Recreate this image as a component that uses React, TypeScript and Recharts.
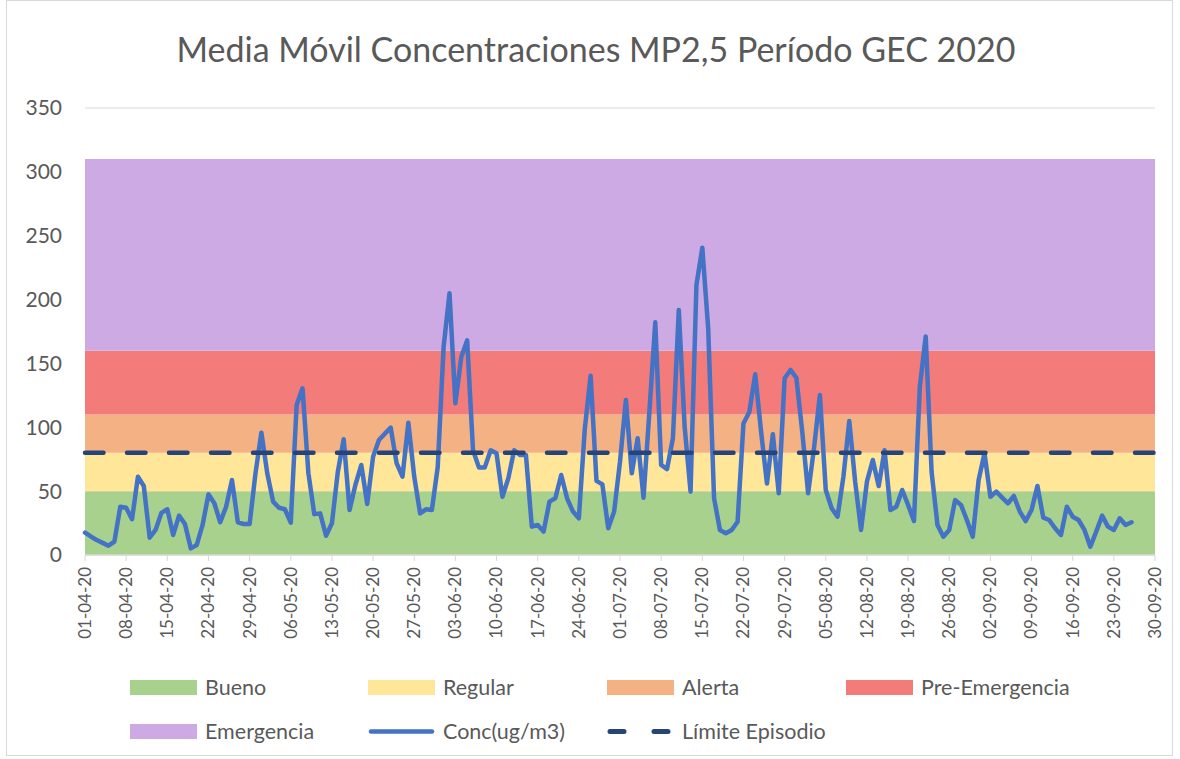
import { ComposedChart, Area, Line, XAxis, YAxis, CartesianGrid, ReferenceLine } from 'recharts'

// daily moving average, 01-04-20 .. 26-09-20
const CONC = [
  17.5, 14.5, 11.7, 9.5, 7.3, 10.4, 37.8, 37, 28, 61.3,
  54, 13.6, 19.6, 33, 35.8, 15.7, 30.8, 24.3, 5.2, 7.8,
  23.5, 47.5, 40.5, 25.6, 37.8, 58.7, 25.6, 24.3, 24.3, 64,
  95.8, 64, 41.8, 37, 35.8, 25.3, 117.5, 130.5, 64, 32,
  32.6, 15.1, 24.8, 65, 90.6, 35.2, 55, 70.5, 40, 77,
  90, 95, 99.7, 72, 61.3, 103.6, 61.3, 32.6, 35.8, 35.2,
  69, 163, 205, 118.8, 155, 168, 82, 68.6, 68.6, 82,
  79.6, 45.6, 60, 82, 78.3, 78.3, 22.2, 23.5, 18.3, 41.8,
  44.4, 62.6, 44.4, 34, 28.7, 98, 140.4, 58, 55.3, 20.9,
  34, 73, 121.4, 64, 91.4, 44.9, 112, 182.2, 70.5, 67.3,
  91.4, 191.9, 100, 49.6, 211.4, 240.6, 177.5, 44.4, 19.6, 17,
  19.6, 26, 103, 112, 141.5, 96.5, 56, 94.5, 48.3, 138.4,
  144.9, 138.8, 96.5, 48.3, 83.6, 125.3, 50.9, 36.6, 30, 61.3,
  105, 57.4, 19.6, 57.4, 74.4, 54, 82, 35.2, 37.8, 50.9,
  39.2, 26.6, 131.8, 171, 65.2, 23.5, 14.3, 19.6, 43, 39.2,
  27.4, 14.3, 58.7, 79.6, 45.6, 49.6, 44.9, 40.5, 46.2, 34,
  26.6, 35.2, 54, 29.2, 27.4, 20.9, 15.7, 37.8, 30, 27.4,
  19.6, 6.5, 18.3, 30.8, 22.2, 19.6, 28.7, 23.5, 25.6,
]

const TICK_LABELS = [
  '01-04-20', '08-04-20', '15-04-20', '22-04-20', '29-04-20', '06-05-20', '13-05-20',
  '20-05-20', '27-05-20', '03-06-20', '10-06-20', '17-06-20', '24-06-20', '01-07-20',
  '08-07-20', '15-07-20', '22-07-20', '29-07-20', '05-08-20', '12-08-20', '19-08-20',
  '26-08-20', '02-09-20', '09-09-20', '16-09-20', '23-09-20', '30-09-20',
]

const BAND_NAMES = ['Bueno', 'Regular', 'Alerta', 'Pre-Emergencia', 'Emergencia']
const BAND_TOPS = [50, 80, 110, 160, 310]
const BAND_COLORS = ['#A9D18E', '#FFE699', '#F4B183', '#F37B79', '#CDAAE3']

const LIMIT = 80
const Y_TICKS = [0, 50, 100, 150, 200, 250, 300, 350]

const TOTAL_DAYS = (TICK_LABELS.length - 1) * 7
const TICKS = TICK_LABELS.map((_, i) => i * 7)

const data = Array.from({ length: TOTAL_DAYS + 1 }, (_, day) => {
  const row: Record<string, number | null> = { day, conc: CONC[day] ?? null }
  BAND_TOPS.forEach((top, i) => {
    row['b' + i] = top - (i ? BAND_TOPS[i - 1] : 0)
  })
  return row
})

const TEXT = '#595959'
const GRID = '#d9d9d9'

function DateTick({ x, y, payload }: any) {
  const label = TICK_LABELS[Math.round(payload.value / 7)]
  const ty = y + 4
  return (
    <text
      x={x}
      y={ty}
      transform={`rotate(-90 ${x} ${ty})`}
      textAnchor="end"
      dy="0.35em"
      fill={TEXT}
      fontSize={17}
    >
      {label}
    </text>
  )
}

function LegendItem({ left, top, label, kind, color }: any) {
  let mark
  if (kind === 'box') {
    mark = <div style={{ width: 67, height: 15, background: color }} />
  } else {
    mark = (
      <svg width={67} height={15}>
        <line
          x1={3}
          x2={64}
          y1={7.5}
          y2={7.5}
          stroke={color}
          strokeWidth={kind === 'dash' ? 5 : 4.5}
          strokeLinecap="round"
          strokeDasharray={kind === 'dash' ? '14 30' : undefined}
        />
      </svg>
    )
  }
  return (
    <div style={{ position: 'absolute', left, top, display: 'flex', alignItems: 'center', gap: 8 }}>
      {mark}
      <span style={{ fontSize: 21.5, color: TEXT }}>{label}</span>
    </div>
  )
}

export default function App() {
  const cols = [130, 368, 607, 846]
  return (
    <div
      style={{
        position: 'fixed',
        left: 0,
        top: 0,
        width: 1180,
        height: 759,
        background: '#fff',
        fontFamily: 'Lato, "Open Sans", sans-serif',
      }}
    >
      <div
        style={{
          position: 'absolute',
          left: 6,
          top: 0,
          width: 1167,
          height: 756,
          border: `1px solid ${GRID}`,
          boxSizing: 'border-box',
        }}
      />
      <div
        style={{
          position: 'absolute',
          left: 0,
          width: 1192,
          top: 28,
          textAlign: 'center',
          fontSize: 34,
          color: TEXT,
        }}
      >
        Media Móvil Concentraciones MP2,5 Período GEC 2020
      </div>
      <div style={{ position: 'absolute', left: 0, top: 0 }}>
        <ComposedChart
          width={1180}
          height={759}
          data={data}
          margin={{ top: 108, right: 25, bottom: 109, left: 25 }}
        >
          <CartesianGrid horizontal vertical={false} stroke={GRID} />
          <XAxis
            dataKey="day"
            type="number"
            domain={[0, TOTAL_DAYS]}
            ticks={TICKS}
            interval={0}
            height={95}
            tick={<DateTick />}
            axisLine={{ stroke: GRID, strokeWidth: 1.5 }}
            tickLine={{ stroke: GRID }}
          />
          <YAxis
            domain={[0, 350]}
            ticks={Y_TICKS}
            width={60}
            axisLine={false}
            tickLine={false}
            tickSize={15}
            tickMargin={8}
            tick={{ fill: TEXT, fontSize: 21 }}
          />
          {BAND_NAMES.map((name, i) => (
            <Area
              key={name}
              name={name}
              dataKey={'b' + i}
              stackId="bands"
              type="linear"
              stroke="none"
              fill={BAND_COLORS[i]}
              fillOpacity={1}
              isAnimationActive={false}
            />
          ))}
          <Line
            name="Conc(ug/m3)"
            dataKey="conc"
            type="linear"
            stroke="#4472C4"
            strokeWidth={4.5}
            dot={false}
            strokeLinejoin="round"
            strokeLinecap="round"
            isAnimationActive={false}
          />
          <ReferenceLine
            y={LIMIT}
            stroke="#264478"
            strokeWidth={4.5}
            strokeDasharray="18.5 23.5"
            strokeLinecap="round"
          />
        </ComposedChart>
      </div>
      {BAND_NAMES.slice(0, 4).map((name, i) => (
        <LegendItem key={name} left={cols[i]} top={674} label={name} kind="box" color={BAND_COLORS[i]} />
      ))}
      <LegendItem left={cols[0]} top={718} label={BAND_NAMES[4]} kind="box" color={BAND_COLORS[4]} />
      <LegendItem left={cols[1]} top={718} label="Conc(ug/m3)" kind="line" color="#4472C4" />
      <LegendItem left={cols[2]} top={718} label="Límite Episodio" kind="dash" color="#264478" />
    </div>
  )
}
